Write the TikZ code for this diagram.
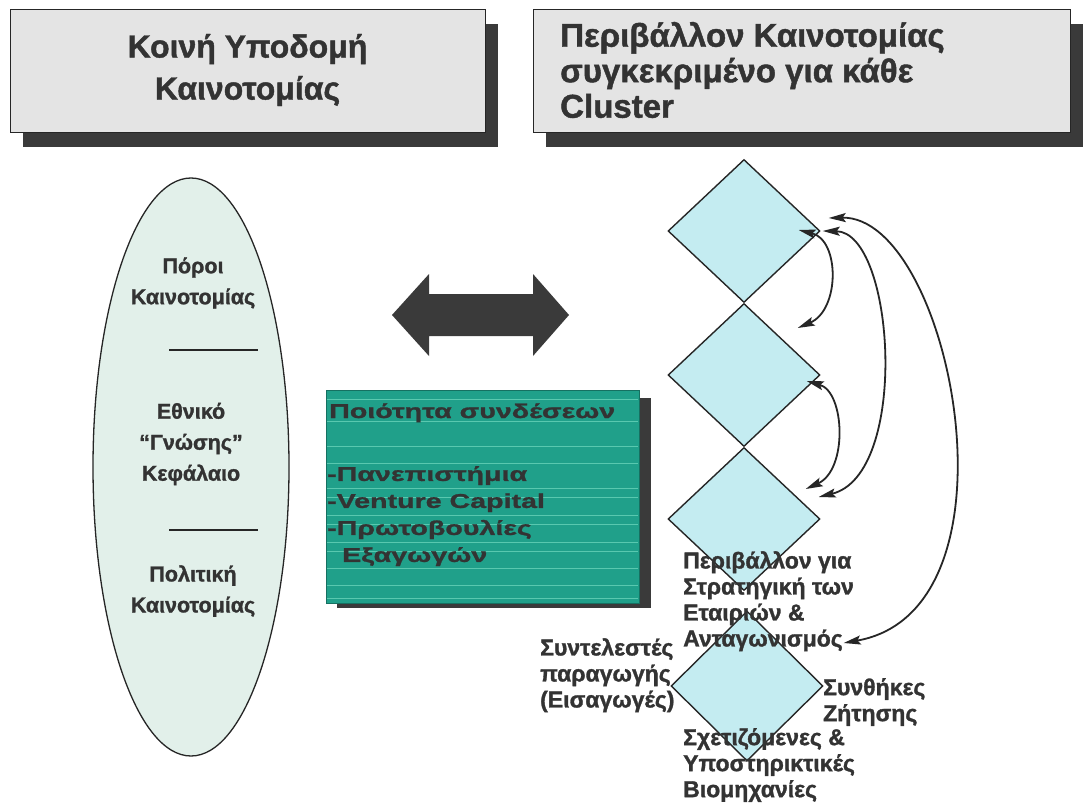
\documentclass[tikz,border=0pt]{standalone}
\usepackage{fontspec}
\setmainfont{Liberation Sans}[BoldFeatures={FakeBold=1.3}]
\newfontfamily\widesans{Liberation Sans}[FakeStretch=1.43, BoldFeatures={FakeBold=1.3}]
\usetikzlibrary{arrows.meta,shapes.geometric,shadows,calc}

\definecolor{ink}{HTML}{333333}
\definecolor{titlefill}{HTML}{E4E4E4}
\definecolor{shadowgray}{HTML}{3A3A3A}
\definecolor{mint}{HTML}{E2F0EA}
\definecolor{tealbox}{HTML}{20A08A}
\definecolor{tealline}{HTML}{72DAC0}
\definecolor{ice}{HTML}{C4ECF1}

\tikzset{
  titlebox/.style={draw=black!85, line width=1pt, fill=titlefill,
    minimum height=123pt, inner ysep=0pt, text=ink,
    drop shadow={shadow xshift=13pt, shadow yshift=-14pt, fill=shadowgray, opacity=1}},
  lbl/.style={text=ink, inner sep=0pt, align=center, font=\fontsize{21.5}{31}\selectfont\bfseries},
  dlbl/.style={text=ink, inner sep=0pt, align=left, font=\fontsize{23}{26}\selectfont\bfseries},
  facet/.style={diamond, draw=black!85, line width=1.4pt, fill=ice, inner sep=0pt,
    minimum width=152pt, minimum height=143pt},
  link/.style={draw=black!85, line width=1.8pt,
    {Stealth[length=17pt,width=9pt,inset=3pt]}-{Stealth[length=17pt,width=9pt,inset=3pt]}},
}

\begin{document}
\begin{tikzpicture}[x=1pt, y=-1pt]
\useasboundingbox[fill=white] (0,0) rectangle (1084,805);

% --- headers ---
\node[titlebox, minimum width=475pt] (hdrA) at (247.5,71.5) {};
\node[text=ink, inner sep=0pt, align=center, font=\fontsize{32}{42}\selectfont\bfseries] (hdrAtext) at (247.5,70)
  {Κοινή Υποδομή\\Καινοτομίας};
\node[titlebox, minimum width=537pt] (hdrB) at (801.5,71.5) {};
\node[text=ink, inner sep=0pt, align=left, anchor=west, font=\fontsize{33}{35.5}\selectfont\bfseries] (hdrBtext) at (560,70)
  {Περιβάλλον Καινοτομίας\\συγκεκριμένο για κάθε\\Cluster};

% --- common infrastructure ---
\node[ellipse, draw=black!85, line width=1.3pt, fill=mint, minimum width=196pt, minimum height=578pt] (core) at (191,467) {};
\node[lbl] (res) at (193,283) {Πόροι\\Καινοτομίας};
\draw[black!85, line width=1.6pt] (169,350) -- (258,350);
\node[lbl] (know) at (191,444) {Εθνικό\\“Γνώσης”\\Κεφάλαιο};
\draw[black!85, line width=1.6pt] (169,530) -- (258,530);
\node[lbl] (pol) at (193,591) {Πολιτική\\Καινοτομίας};

% --- two-way exchange ---
\fill[shadowgray] (392,315) -- (429,274) -- (429,294) -- (533,294) -- (533,274) -- (569,315)
  -- (533,356) -- (533,336) -- (429,336) -- (429,356) -- cycle;

% --- linkage quality box ---
\fill[shadowgray] (337,398) rectangle (651,608);
\node[draw=tealbox!70!black, line width=0.8pt, fill=tealbox, minimum width=313pt, minimum height=213pt, inner sep=0pt] (links) at (482.5,496.5) {};
\foreach \yy in {399,421,446,463,488,497,515,524,542,551,568,585,598}
  \draw[tealline, line width=0.9pt, opacity=0.7] (327,\yy) -- (638,\yy);
\node[text=ink, inner sep=0pt, anchor=base west, font=\widesans\fontsize{20}{26}\selectfont\bfseries] (linkhead) at (329,418) {Ποιότητα συνδέσεων};
\node[text=ink, inner sep=0pt, anchor=north west, align=left, font=\widesans\fontsize{20}{27}\selectfont\bfseries] (linklist) at (327,466)
  {-Πανεπιστήμια\\-Venture Capital\\-Πρωτοβουλίες\\\hspace*{0.75em}Εξαγωγών};

% --- cluster diamonds ---
\node[facet] (d1) at (744,231) {};
\node[facet] (d2) at (744,375) {};
\node[facet] (d3) at (744,519) {};
\node[facet, minimum height=150pt] (d4) at (747,686) {};

% --- interactions ---
\coordinate (a1) at ($(d1.east)+(-22,-1)$);
\coordinate (a2) at ($(d2.east)+(-23,-47)$);
\coordinate (b1) at ($(d1.east)+(2,0)$);
\coordinate (b2) at ($(d3.east)+(-2,-22)$);
\coordinate (c1) at ($(d2.east)+(-14,6)$);
\coordinate (c2) at ($(d3.east)+(-15,-30)$);
\coordinate (e1) at ($(d1.east)+(8,-13)$);
\coordinate (e2) at ($(d4.east)+(20,-43)$);
\draw[link] (a1) .. controls (840,240) and (840,310) .. (a2);
\draw[link] (b1) .. controls (895,232) and (910,475) .. (b2);
\draw[link] (c1) .. controls (845,392) and (848,470) .. (c2);
\draw[link] (e1) .. controls (950,215) and (1030,610) .. (e2);

% --- diamond labels ---
\node[dlbl, anchor=north west] (strat) at (683,551) {Περιβάλλον για\\Στρατηγική των\\Εταιριών \&\\Ανταγωνισμός};
\node[dlbl, anchor=north west] (fact) at (540,638) {Συντελεστές\\παραγωγής\\(Εισαγωγές)};
\node[dlbl, anchor=north west] (dem) at (823,678) {Συνθήκες\\Ζήτησης};
\node[dlbl, anchor=north west] (rel) at (683,728) {Σχετιζόμενες \&\\Υποστηρικτικές\\Βιομηχανίες};
\end{tikzpicture}
\end{document}
